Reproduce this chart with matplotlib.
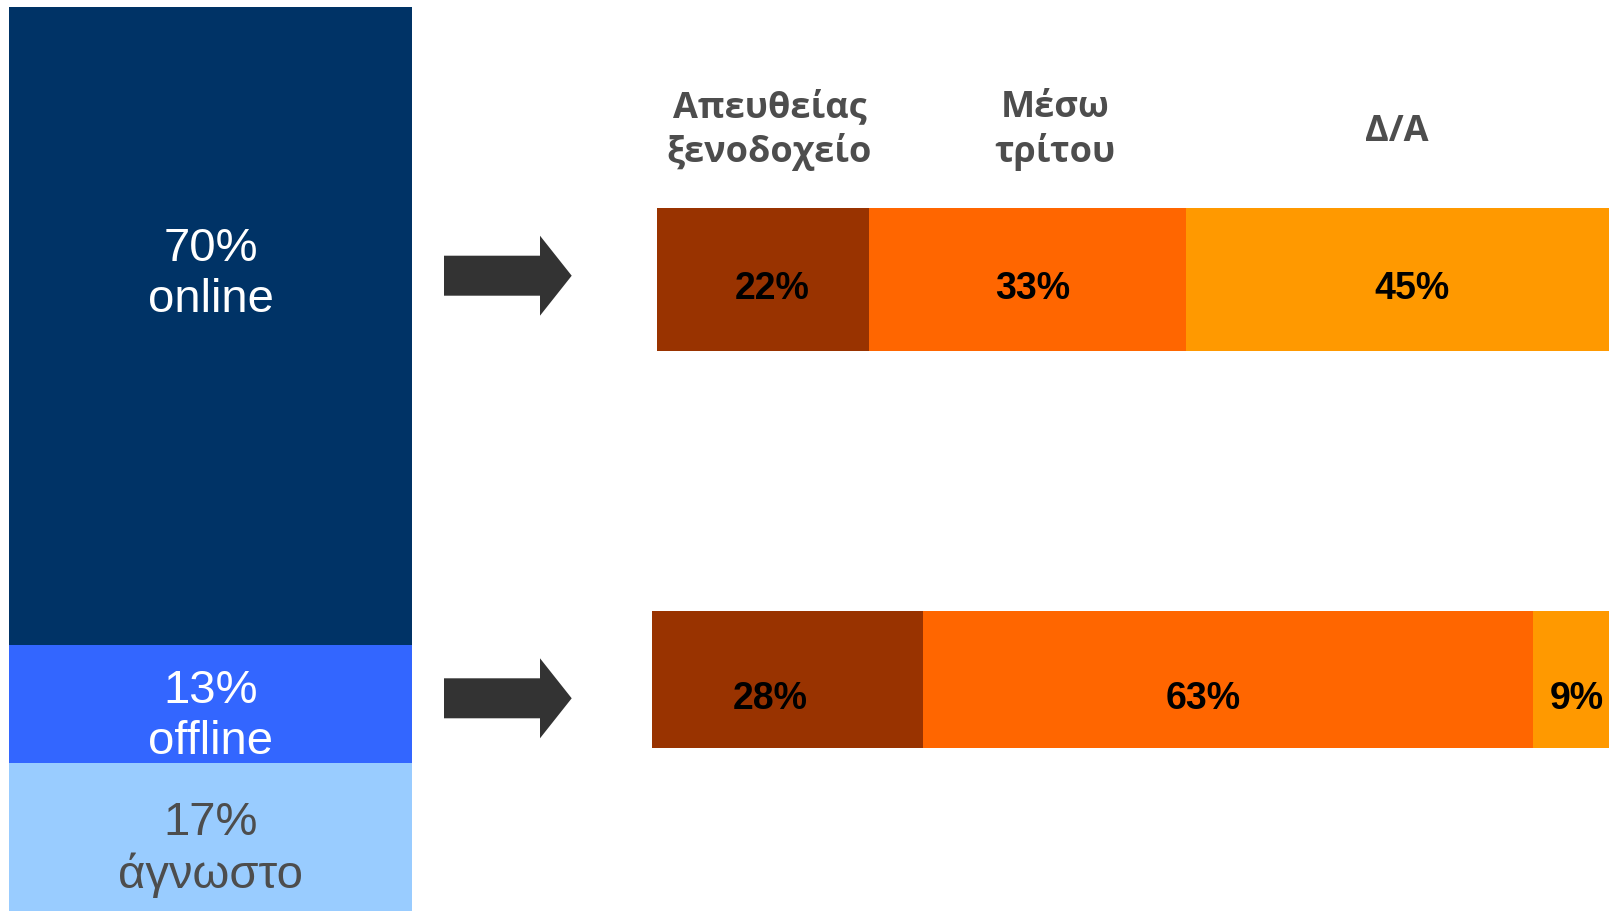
import matplotlib
matplotlib.use("Agg")
import matplotlib.pyplot as plt
from matplotlib.patches import FancyArrow
from matplotlib.transforms import ScaledTranslation

W, H = 1609, 912

# left column: share of bookings by channel
split_vals = [70, 13, 17]
split_names = ["online", "offline", "άγνωστο"]
split_colors = ["#003366", "#3366FF", "#99CCFF"]
split_text = ["white", "white", "#4d4d4d"]

# right bars: how the booking was made
cats = ["Απευθείας\nξενοδοχείο", "Μέσω\nτρίτου", "Δ/Α"]
online_vals = [22, 33, 45]
offline_vals = [28, 63, 9]
cat_colors = ["#993300", "#FF6600", "#FF9900"]


def px(x, y):
    return x / W, 1 - y / H


fig = plt.figure(figsize=(W / 100, H / 100), dpi=100)
fig.patch.set_facecolor("white")

# stacked column on the left
ax = fig.add_axes([9 / W, 1 - 919 / H, 403 / W, 911 / H])
bottom = 0
for v, c in zip(split_vals, split_colors):
    ax.bar(0, v, bottom=bottom, width=1, color=c, linewidth=0)
    bottom += v
ax.set_xlim(-0.5, 0.5)
ax.set_ylim(100, 0)
ax.axis("off")

# baseline of the last line of each label (px from top)
label_base = [311.7, 754, 888]
for v, name, tc, yb in zip(split_vals, split_names, split_text, label_base):
    fig.text(210.5 / W, 1 - yb / H, f"{v}%\n{name}", color=tc, fontsize=34,
             family="Liberation Sans", ha="center", va="baseline",
             linespacing=1.2)

# arrows
for yc in [276.7, 699.3]:
    x0, y0 = px(444, yc)
    x1, _ = px(571.7, yc)
    fig.patches.append(FancyArrow(x0, y0, x1 - x0, 0, width=40 / H,
                                  head_width=80 / H, head_length=31.7 / W,
                                  length_includes_head=True, color="#333333",
                                  linewidth=0, transform=fig.transFigure))

# horizontal stacked bars
bar_boxes = [(657, 962, 209, 352, 18.8), (652, 968, 612, 749, 28.5)]
nudges = [[9, 5, 9], [-17, -25, 0]]  # px shift of the value labels
for vals, (xl, wd, yt, yb, off), nud in zip([online_vals, offline_vals],
                                            bar_boxes, nudges):
    bx = fig.add_axes([xl / W, 1 - yb / H, wd / W, (yb - yt) / H])
    left = 0
    for v, c, n in zip(vals, cat_colors, nud):
        shift = bx.transData + ScaledTranslation(n / 100, -off / 100,
                                                 fig.dpi_scale_trans)
        bx.barh(0, v, left=left, height=1, color=c, linewidth=0)
        bx.text(left + v / 2, 0, f"{v}%", transform=shift, ha="center",
                va="baseline", fontsize=27, fontweight="bold",
                family="Liberation Sans", color="black")
        left += v
    bx.set_xlim(0, 100)
    bx.set_ylim(-0.5, 0.5)
    bx.axis("off")

# column headers (baseline of last line)
head_pos = [(769.5, 161.7), (1055, 161.7), (1397, 141)]
for name, (hx, hy) in zip(cats, head_pos):
    fig.text(hx / W, 1 - hy / H, name, ha="center", va="baseline",
             fontsize=26, fontweight="bold", family="Open Sans",
             color="#4d4d4d", linespacing=1.22)

fig.savefig("out.png", dpi=100)
